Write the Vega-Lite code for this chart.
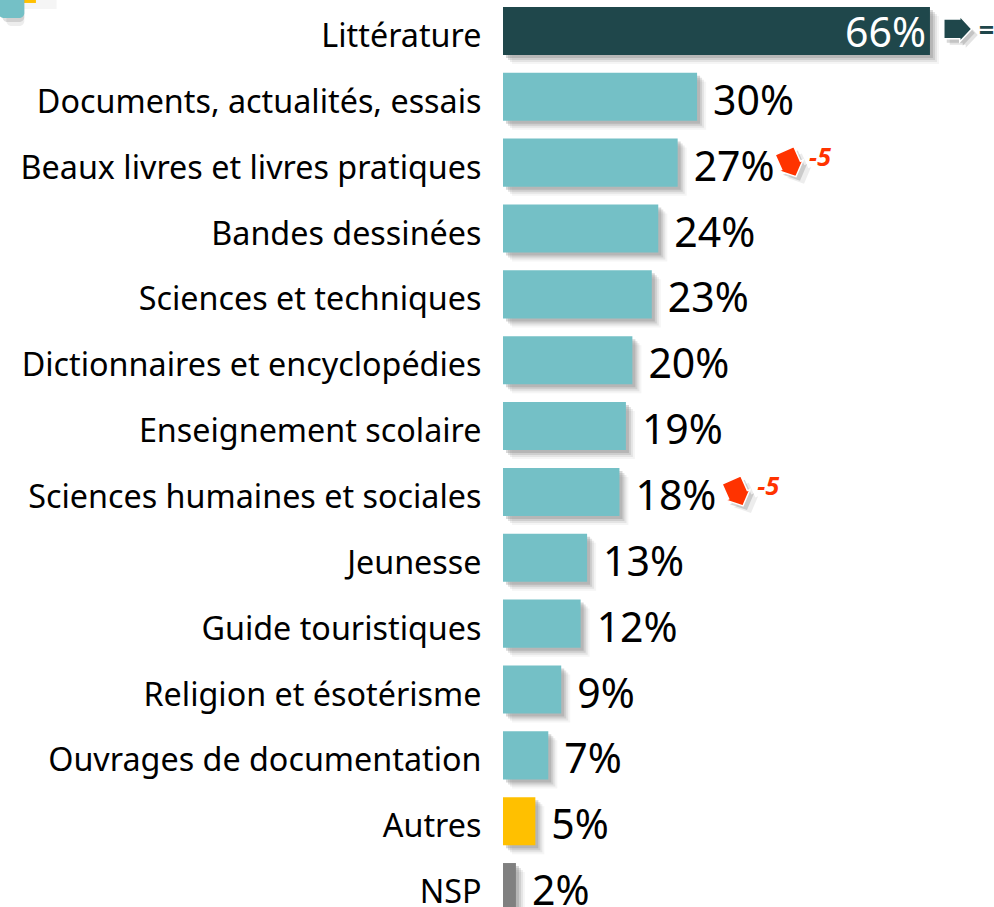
{
"$schema":"https://vega.github.io/schema/vega-lite/v6.json",
"width":491,"height":907,
"autosize":{"type":"none"},
"padding":{"left":503,"top":0,"right":0,"bottom":0},
"background":"white",
"config":{"view":{"stroke":null},"font":"Noto Sans"},
"datasets":{
"bars":[
{"genre":"Littérature","pct":66,"groupe":"principal"},
{"genre":"Documents, actualités, essais","pct":30,"groupe":"genre"},
{"genre":"Beaux livres et livres pratiques","pct":27,"groupe":"genre"},
{"genre":"Bandes dessinées","pct":24,"groupe":"genre"},
{"genre":"Sciences et techniques","pct":23,"groupe":"genre"},
{"genre":"Dictionnaires et encyclopédies","pct":20,"groupe":"genre"},
{"genre":"Enseignement scolaire","pct":19,"groupe":"genre"},
{"genre":"Sciences humaines et sociales","pct":18,"groupe":"genre"},
{"genre":"Jeunesse","pct":13,"groupe":"genre"},
{"genre":"Guide touristiques","pct":12,"groupe":"genre"},
{"genre":"Religion et ésotérisme","pct":9,"groupe":"genre"},
{"genre":"Ouvrages de documentation","pct":7,"groupe":"genre"},
{"genre":"Autres","pct":5,"groupe":"autres"},
{"genre":"NSP","pct":2,"groupe":"nsp"}],
"baisses":[
{"genre":"Beaux livres et livres pratiques","pos":44.4,"texte_pos":49,"evolution":"-5"},
{"genre":"Sciences humaines et sociales","pos":36.2,"texte_pos":41,"evolution":"-5"}],
"stable":[{"genre":"Littérature","pos":70.3,"texte_pos":74.7,"evolution":"="}],
"coin":[{"genre":"Littérature","a":-78,"b":-74}],
"coin2":[{"genre":"Littérature","a":-74.5,"b":-72.2}],
"coin3":[{"genre":"Littérature","a":-74,"b":-69}]
},
"encoding":{
"y":{"field":"genre","type":"nominal","sort":null,"title":null,
"scale":{"domain":["Littérature","Documents, actualités, essais","Beaux livres et livres pratiques","Bandes dessinées","Sciences et techniques","Dictionnaires et encyclopédies","Enseignement scolaire","Sciences humaines et sociales","Jeunesse","Guide touristiques","Religion et ésotérisme","Ouvrages de documentation","Autres","NSP"],"range":[-2,920],"paddingInner":0.27,"paddingOuter":0.135},
"axis":{"domain":false,"ticks":false,"labelPadding":22,"labelFontSize":32.3,"labelColor":"#000000","labelFont":"Noto Sans","labelOffset":6,"labelLimit":500}}
},
"layer":[
{"data":{"name":"coin3"},"mark":{"type":"bar","color":"#7f7f7f","opacity":0.08,"yOffset":-46},"encoding":{"x":{"field":"a","type":"quantitative","title":null,"scale":{"domain":[0,75.9],"range":[0,491],"nice":false},"axis":null},"x2":{"field":"b"}}},
{"data":{"name":"coin2"},"mark":{"type":"bar","color":"#FFC000","yOffset":-52},"encoding":{"x":{"field":"a","type":"quantitative"},"x2":{"field":"b"}}},
{"data":{"name":"coin"},"mark":{"type":"bar","color":"#7f7f7f","opacity":0.14,"yOffset":-29,"xOffset":8,"cornerRadius":5},"encoding":{"x":{"field":"a","type":"quantitative"},"x2":{"field":"b"}}},
{"data":{"name":"coin"},"mark":{"type":"bar","color":"#7f7f7f","opacity":0.25,"yOffset":-33,"xOffset":4,"cornerRadius":5},"encoding":{"x":{"field":"a","type":"quantitative"},"x2":{"field":"b"}}},
{"data":{"name":"coin"},"mark":{"type":"bar","color":"#74C0C6","yOffset":-37,"cornerRadius":5},"encoding":{"x":{"field":"a","type":"quantitative"},"x2":{"field":"b"}}},
{"data":{"name":"bars"},"mark":{"type":"bar","color":"#7f7f7f","opacity":0.08,"xOffset":9,"yOffset":9},"encoding":{"x":{"field":"pct","type":"quantitative"}}},
{"data":{"name":"bars"},"mark":{"type":"bar","color":"#7f7f7f","opacity":0.14,"xOffset":7,"yOffset":7},"encoding":{"x":{"field":"pct","type":"quantitative"}}},
{"data":{"name":"bars"},"mark":{"type":"bar","color":"#7f7f7f","opacity":0.22,"xOffset":5,"yOffset":5},"encoding":{"x":{"field":"pct","type":"quantitative"}}},
{"data":{"name":"bars"},"mark":{"type":"bar","color":"#7f7f7f","opacity":0.3,"xOffset":3,"yOffset":3},"encoding":{"x":{"field":"pct","type":"quantitative"}}},
{"data":{"name":"bars"},"mark":{"type":"bar"},"encoding":{
"x":{"field":"pct","type":"quantitative"},
"color":{"field":"groupe","type":"nominal","legend":null,"scale":{"domain":["principal","genre","autres","nsp"],"range":["#1F474B","#74C0C6","#FFC000","#808080"]}}
}},
{"data":{"name":"bars"},"transform":[{"filter":"datum.pct < 60"},{"calculate":"datum.pct + '%'","as":"etiquette"}],"mark":{"type":"text","align":"left","baseline":"middle","dx":16,"dy":6,"fontSize":41,"color":"#000000"},"encoding":{"x":{"field":"pct","type":"quantitative"},"text":{"field":"etiquette"}}},
{"data":{"name":"bars"},"transform":[{"filter":"datum.pct >= 60"},{"calculate":"datum.pct + '%'","as":"etiquette"}],"mark":{"type":"text","align":"right","baseline":"middle","dx":-4,"dy":4,"fontSize":41,"color":"#ffffff"},"encoding":{"x":{"field":"pct","type":"quantitative"},"text":{"field":"etiquette"}}},
{"data":{"name":"stable"},"mark":{"type":"point","filled":true,"opacity":0.22,"color":"#7f7f7f","shape":"M-1,-0.71 L0.14,-0.71 L0.14,-0.92 L1,0 L0.14,0.92 L0.14,0.71 L-1,0.71 Z","size":784,"xOffset":6,"yOffset":4},"encoding":{"x":{"field":"pos","type":"quantitative"}}},
{"data":{"name":"stable"},"mark":{"type":"point","filled":true,"opacity":0.3,"color":"#7f7f7f","shape":"M-1,-0.71 L0.14,-0.71 L0.14,-0.92 L1,0 L0.14,0.92 L0.14,0.71 L-1,0.71 Z","size":784,"xOffset":3,"yOffset":2},"encoding":{"x":{"field":"pos","type":"quantitative"}}},
{"data":{"name":"stable"},"mark":{"type":"point","filled":true,"opacity":1,"color":"#1F474B","stroke":"#ffffff","strokeWidth":1.5,"shape":"M-1,-0.71 L0.14,-0.71 L0.14,-0.92 L1,0 L0.14,0.92 L0.14,0.71 L-1,0.71 Z","size":784,"yOffset":-2},"encoding":{"x":{"field":"pos","type":"quantitative"}}},
{"data":{"name":"stable"},"mark":{"type":"text","align":"center","baseline":"middle","dy":1,"fontSize":27,"fontStyle":"italic","fontWeight":"bold","color":"#1F474B"},"encoding":{"x":{"field":"texte_pos","type":"quantitative"},"text":{"field":"evolution"}}},
{"data":{"name":"baisses"},"mark":{"type":"point","filled":true,"opacity":0.14,"color":"#7f7f7f","angle":66,"shape":"M-1,-0.72 L0.14,-0.72 L0.14,-0.93 L1,0 L0.14,0.93 L0.14,0.72 L-1,0.72 Z","size":810,"xOffset":8,"yOffset":8},"encoding":{"x":{"field":"pos","type":"quantitative"}}},
{"data":{"name":"baisses"},"mark":{"type":"point","filled":true,"opacity":0.3,"color":"#7f7f7f","angle":66,"shape":"M-1,-0.72 L0.14,-0.72 L0.14,-0.93 L1,0 L0.14,0.93 L0.14,0.72 L-1,0.72 Z","size":810,"xOffset":4,"yOffset":5},"encoding":{"x":{"field":"pos","type":"quantitative"}}},
{"data":{"name":"baisses"},"mark":{"type":"point","filled":true,"opacity":1,"color":"#FF3300","stroke":"#ffffff","strokeWidth":1.5,"angle":66,"shape":"M-1,-0.72 L0.14,-0.72 L0.14,-0.93 L1,0 L0.14,0.93 L0.14,0.72 L-1,0.72 Z","size":810,"yOffset":1},"encoding":{"x":{"field":"pos","type":"quantitative"}}},
{"data":{"name":"baisses"},"mark":{"type":"text","align":"center","baseline":"middle","dy":-5,"fontSize":25,"fontStyle":"italic","fontWeight":"bold","color":"#FF3300"},"encoding":{"x":{"field":"texte_pos","type":"quantitative"},"text":{"field":"evolution"}}}
]
}
